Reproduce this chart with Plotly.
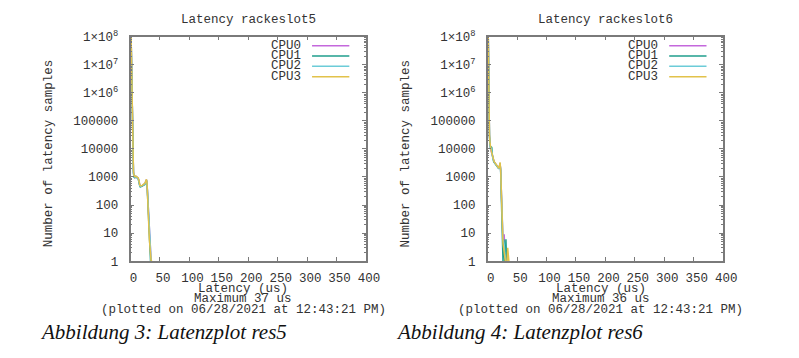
import plotly.graph_objects as go

W, H = 799, 358

# ---------------- data ----------------
latency = list(range(1, 38))  # us

cpus = ["CPU0", "CPU1", "CPU2", "CPU3"]
colors = ["#c468dc", "#1f9e8c", "#6cccd8", "#e2c24a"]

res5_cpu0 = [9.5e7, 4.0e6, 5.2e4, 3800, 1500, 1050, 980, 1000, 950, 1020, 990, 940, 900, 780, 560, 480, 470, 460, 470, 480, 500, 520, 530, 540, 600, 720, 800, 620, 250, 70, 18, 6, 3, 1, 1, 0, 0]
res5_cpu1 = [9.0e7, 3.5e6, 4.8e4, 4500, 1400, 980, 950, 1050, 1000, 980, 960, 920, 880, 700, 520, 450, 440, 450, 460, 470, 490, 510, 520, 530, 580, 700, 760, 600, 230, 60, 16, 5, 2, 1, 1, 0, 0]
res5_cpu2 = [8.8e7, 3.8e6, 5.0e4, 3500, 1300, 1000, 1020, 980, 1010, 1000, 970, 950, 890, 740, 540, 470, 460, 470, 480, 470, 500, 520, 540, 550, 590, 710, 780, 640, 260, 80, 20, 7, 3, 2, 1, 1, 0]
res5_cpu3 = [1.0e8, 4.5e6, 5.5e4, 3200, 1600, 1100, 1000, 1020, 1080, 1040, 1000, 960, 920, 800, 600, 500, 490, 480, 490, 500, 520, 540, 550, 560, 620, 740, 820, 650, 280, 75, 19, 6, 3, 1, 1, 1, 1]

res6_cpu0 = [9.0e7, 3.0e5, 3.0e4, 1.5e4, 9000, 8000, 7000, 5500, 4500, 3800, 3400, 3200, 3000, 2800, 2600, 2400, 2200, 2100, 2000, 2400, 3100, 1800, 250, 30, 6, 5, 4, 9, 3, 2, 1, 0, 0, 0, 0, 0, 0]
res6_cpu1 = [8.5e7, 2.8e5, 2.8e4, 1.4e4, 1.0e4, 1.2e4, 1.1e4, 6000, 4200, 3600, 3300, 3100, 2900, 2700, 2500, 2300, 2150, 2050, 1950, 2300, 3000, 1700, 220, 25, 7, 1, 6, 5, 1, 1, 6, 1, 0, 0, 0, 0, 0]
res6_cpu2 = [8.8e7, 3.2e5, 3.1e4, 1.6e4, 9500, 1.1e4, 9000, 5800, 4400, 3700, 3350, 3150, 2950, 2750, 2550, 2350, 2200, 2100, 2000, 2350, 3050, 1750, 240, 28, 7, 6, 5, 4, 2, 1, 1, 0, 0, 0, 0, 0, 0]
res6_cpu3 = [9.5e7, 3.5e5, 3.3e4, 1.6e4, 9200, 8500, 7200, 5600, 4600, 3900, 3500, 3300, 3100, 2900, 2700, 2500, 2300, 2150, 2050, 2450, 3300, 1900, 280, 35, 6, 4, 3, 2, 2, 1, 1, 1, 1, 3, 1, 1, 0]

charts = [
    {"title": "Latency rackeslot5", "maximum": "Maximum 37 us",
     "caption": "Abbildung 3: Latenzplot res5",
     "series": [res5_cpu0, res5_cpu1, res5_cpu2, res5_cpu3]},
    {"title": "Latency rackeslot6", "maximum": "Maximum 36 us",
     "caption": "Abbildung 4: Latenzplot res6",
     "series": [res6_cpu0, res6_cpu1, res6_cpu2, res6_cpu3]},
]
plotted = "(plotted on 06/28/2021 at 12:43:21 PM)"
xlabel = "Latency (us)"
ylabel = "Number of latency samples"

ytickvals = [1, 10, 100, 1000, 10000, 100000, 1e6, 1e7, 1e8]
yticktext = ["1", "10", "100", "1000", "10000", "100000",
             "1×10<sup>6</sup>", "1×10<sup>7</sup>", "1×10<sup>8</sup>"]
xtickvals = [0, 50, 100, 150, 200, 250, 300, 350, 400]

# ---------------- layout helpers ----------------
def px(x):
    return x / W

def py(y):
    return 1 - y / H

MONO = "Liberation Mono"
TXT = "#333333"
AX = "#7a7a7a"
FS = 12.5

plot_left = [132, 496]
plot_w = 240
plot_top, plot_bot = 30, 265

minor_vals = [m * 10 ** e for e in range(0, 8) for m in range(2, 10)]

fig = go.Figure()
annotations = []
shapes = []

for i, ch in enumerate(charts):
    xa = "x" if i == 0 else "x2"
    ya = "y" if i == 0 else "y2"
    for name, col, vals in zip(cpus, colors, ch["series"]):
        ys = [v if v > 0 else None for v in vals]
        fig.add_trace(go.Scatter(x=latency, y=ys, mode="lines", name=name,
                                 line=dict(color=col, width=1.5),
                                 xaxis=xa, yaxis=ya, showlegend=False,
                                 connectgaps=False))
    L = plot_left[i]
    R = L + plot_w
    common_x = dict(domain=[px(L), px(R)], range=[0, 400], tickvals=xtickvals,
                    ticks="inside", ticklen=4, tickcolor=AX, showline=True,
                    linecolor=AX, linewidth=1.5, mirror="allticks",
                    showgrid=False, zeroline=False,
                    tickfont=dict(family=MONO, size=FS, color=TXT),
                    ticklabelstandoff=4, ticklabelshift=3)
    common_y = dict(domain=[py(plot_bot), py(plot_top)], type="log", range=[0, 8],
                    tickvals=ytickvals, ticktext=yticktext,
                    ticks="inside", ticklen=4, tickcolor=AX, showline=True,
                    linecolor=AX, linewidth=1.5, mirror="allticks",
                    showgrid=False, zeroline=False,
                    tickfont=dict(family=MONO, size=FS, color=TXT),
                    ticklabelstandoff=8,
                    minor=dict(tickvals=minor_vals, ticks="inside", ticklen=2,
                               tickcolor=AX, showgrid=False))
    if i == 0:
        fig.update_layout(xaxis=dict(anchor="y", **common_x),
                          yaxis=dict(anchor="x", **common_y))
    else:
        fig.update_layout(xaxis2=dict(anchor="y2", **common_x),
                          yaxis2=dict(anchor="x2", **common_y))

    cx = (L + R) / 2
    font = dict(family=MONO, size=FS, color=TXT)
    annotations.append(dict(text=ch["title"], x=px(cx), y=py(13), xref="paper", yref="paper",
                            showarrow=False, font=font, xanchor="center", yanchor="middle"))
    for txt, yy in [(xlabel, 294), (ch["maximum"], 305), (plotted, 316)]:
        annotations.append(dict(text=txt, x=px(cx - 5), y=py(yy), xref="paper", yref="paper",
                                showarrow=False, font=font, xanchor="center", yanchor="middle"))
    annotations.append(dict(text=ylabel, x=px(L - 83), y=py(152), xref="paper", yref="paper",
                            showarrow=False, font=font, textangle=-90,
                            xanchor="center", yanchor="middle"))
    annotations.append(dict(text="<i>" + ch["caption"] + "</i>",
                            x=px(38 if i == 0 else 401), y=py(339), xref="paper", yref="paper",
                            showarrow=False, xanchor="left", yanchor="middle",
                            font=dict(family="Liberation Serif", size=21, color="#111111")))
    # legend (gnuplot style: text then line sample)
    for k, (name, col) in enumerate(zip(cpus, colors)):
        yy = 39.5 + k * 10.8
        annotations.append(dict(text=name, x=px(R - 64), y=py(yy), xref="paper", yref="paper",
                                showarrow=False, font=font, xanchor="right", yanchor="middle"))
        shapes.append(dict(type="line", xref="paper", yref="paper",
                           x0=px(R - 55), x1=px(R - 17), y0=py(yy), y1=py(yy),
                           line=dict(color=col, width=1.5)))

fig.update_layout(width=W, height=H, margin=dict(l=0, r=0, t=0, b=0),
                  paper_bgcolor="white", plot_bgcolor="white",
                  annotations=annotations, shapes=shapes, showlegend=False)

fig.write_html("out.html", config={"responsive": False, "displayModeBar": False},
               post_script="document.body.style.margin='0';document.body.style.overflow='hidden';")
